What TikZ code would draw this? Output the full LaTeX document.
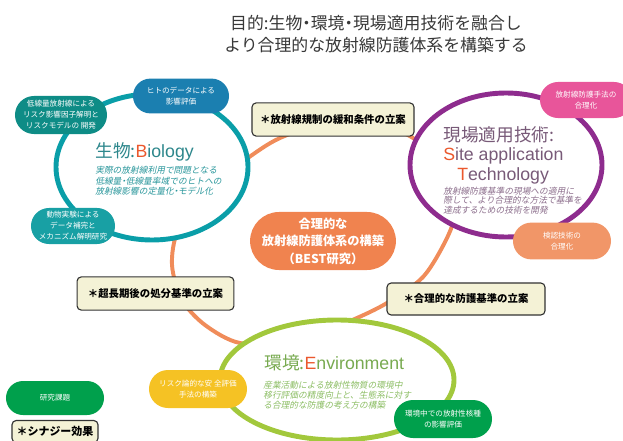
\documentclass[tikz,border=0pt]{standalone}
\usepackage{fontspec}
\usepackage{tikz}
\usetikzlibrary{shapes.misc}
\setmainfont{Noto Sans CJK JP}
\newfontfamily\jpit[FakeSlant=0.2]{Noto Sans CJK JP}
\newfontfamily\lat{Liberation Sans}

\definecolor{ringc}{RGB}{240,140,90}
\definecolor{bioc}{RGB}{10,158,168}
\definecolor{sitec}{RGB}{142,44,142}
\definecolor{envc}{RGB}{162,200,60}
\definecolor{accent}{RGB}{235,88,45}
\definecolor{biotx}{RGB}{45,135,140}
\definecolor{biotxi}{RGB}{40,150,155}
\definecolor{sitetx}{RGB}{120,90,120}
\definecolor{sitetxi}{RGB}{140,110,140}
\definecolor{envtx}{RGB}{120,170,80}
\definecolor{envtxi}{RGB}{140,190,100}
\definecolor{cream}{RGB}{244,242,214}
\definecolor{bestc}{RGB}{240,131,79}
\definecolor{hitoc}{RGB}{27,127,176}
\definecolor{teisenc}{RGB}{14,140,134}
\definecolor{doubutsuc}{RGB}{24,160,164}
\definecolor{pinkc}{RGB}{232,85,154}
\definecolor{keninc}{RGB}{241,150,104}
\definecolor{yellowc}{RGB}{245,194,36}
\definecolor{greenc}{RGB}{0,160,76}

\newcommand{\nakaguro}{\kern-0.25em・\kern-0.25em}

\tikzset{
	pill/.style={shape=rounded rectangle, text=white, align=center, inner sep=0pt,
		font=\fontsize{5.4}{7.8}\selectfont},
	plan/.style={shape=rectangle, rounded corners=3pt, draw=black!80, line width=0.8pt,
		fill=cream, inner sep=0pt, font=\bfseries\fontsize{7.4}{9}\selectfont},
	heading/.style={anchor=base west, inner sep=0pt, font=\fontsize{12.6}{14}\selectfont},
	gist/.style={anchor=north west, align=left, inner sep=0pt},
}

\begin{document}
\begin{tikzpicture}[x=0.025cm, y=-0.025cm]
	\useasboundingbox (0,0) rectangle (623,440);

	% title
	\node[align=center, text=black!78, font=\fontsize{12}{15.6}\selectfont] (title) at (376,34)
		{目的:生物\nakaguro 環境\nakaguro 現場適用技術を融合し\\より合理的な放射線防護体系を構築する};

	% ring
	\draw[ringc, line width=2.8pt] plot[smooth cycle] coordinates {
		(205,190) (245,160) (280,138) (333,121) (385,126) (420,143) (447,178) (455,212)
		(446,240) (423,277) (387,303) (350,321) (295,342) (240,343) (205,325) (182,300)
		(172,265) (178,230)};

	% three fields
	\draw[bioc, line width=3.5pt, fill=white] (152,167) ellipse [x radius=96, y radius=73];
	\draw[sitec, line width=3.5pt, fill=white] (506,165) ellipse [x radius=96, y radius=72];
	\draw[envc, line width=3.5pt, fill=white] (337,380) ellipse [x radius=117, y radius=60];

	\node[heading, text=biotx] (bioh) at (95,157) {生物:{\lat\color{accent}B}{\lat iology}};
	\node[gist, text=biotxi, font=\jpit\fontsize{6.2}{7.4}\selectfont] (biot) at (95,166)
		{実際の放射線利用で問題となる\\低線量\nakaguro 低線量率域でのヒトへの\\放射線影響の定量化\nakaguro モデル化};

	\node[heading, text=sitetx] (siteh) at (443,141) {現場適用技術:};
	\node[heading, text=sitetx] (sites) at (443,160) {\lat{\color{accent}S}ite application};
	\node[heading, text=sitetx] (sitet) at (457,180) {\lat{\color{accent}T}echnology};
	\node[gist, text=sitetxi, font=\jpit\fontsize{6.2}{6.6}\selectfont] (sitex) at (443,187)
		{放射線防護基準の現場への適用に\\際して、より合理的な方法で基準を\\達成するための技術を開発};

	\node[heading, text=envtx] (envh) at (264,369) {環境:{\lat\color{accent}E}{\lat nvironment}};
	\node[gist, text=envtxi, font=\jpit\fontsize{6.2}{7.1}\selectfont] (envt) at (263,381)
		{産業活動による放射性物質の環境中\\移行評価の精度向上と、生態系に対す\\る合理的な防護の考え方の構築};

	% centre
	\node[pill, fill=bestc, minimum width=3.55cm, minimum height=1.45cm,
		font=\bfseries\fontsize{8.7}{12.4}\selectfont] (best) at (323,241)
		{合理的な\\放射線防護体系の構築\\（BEST研究）};

	% proposals
	\node[plan, minimum width=4.05cm, minimum height=0.83cm] (kisei) at (333,119.5) {＊放射線規制の緩和条件の立案};
	\node[plan, minimum width=3.92cm, minimum height=0.83cm] (choki) at (155.5,293.5) {＊超長期後の処分基準の立案};
	\node[plan, minimum width=3.95cm, minimum height=0.8cm] (bougo) at (466,299) {＊合理的な防護基準の立案};
	\node[plan, minimum width=2.15cm, minimum height=0.55cm, font=\bfseries\fontsize{7.8}{9}\selectfont] (synergy) at (55,431.5) {＊シナジー効果};

	% research topics
	\node[pill, fill=hitoc, minimum width=2.4cm, minimum height=0.87cm] (hito) at (181,96) {ヒトのデータによる\\影響評価};
	\node[pill, fill=teisenc, minimum width=2.3cm, minimum height=0.95cm] (teisen) at (61,115) {低線量放射線による\\リスク影響因子解明と\\リスクモデルの 開発};
	\node[pill, fill=doubutsuc, minimum width=2.1cm, minimum height=0.9cm] (doubutsu) at (73,226) {動物実験による\\データ補完と\\メカニズム解明研究};
	\node[pill, fill=pinkc, minimum width=2.3cm, minimum height=0.9cm] (shuho) at (586,100) {放射線防護手法の\\合理化};
	\node[pill, fill=keninc, minimum width=2.45cm, minimum height=0.92cm] (kenin) at (562,241) {検認技術の\\合理化};
	\node[pill, fill=yellowc, minimum width=2.45cm, minimum height=0.95cm] (risk) at (198,389) {リスク論的な安 全評価\\手法の構築};
	\node[pill, fill=greenc, minimum width=2.45cm, minimum height=0.95cm] (kakushu) at (443,419) {環境中での放射性核種\\の影響評価};
	\node[pill, fill=greenc, minimum width=2.45cm, minimum height=0.85cm] (kadai) at (55,398) {研究課題};

\end{tikzpicture}
\end{document}
